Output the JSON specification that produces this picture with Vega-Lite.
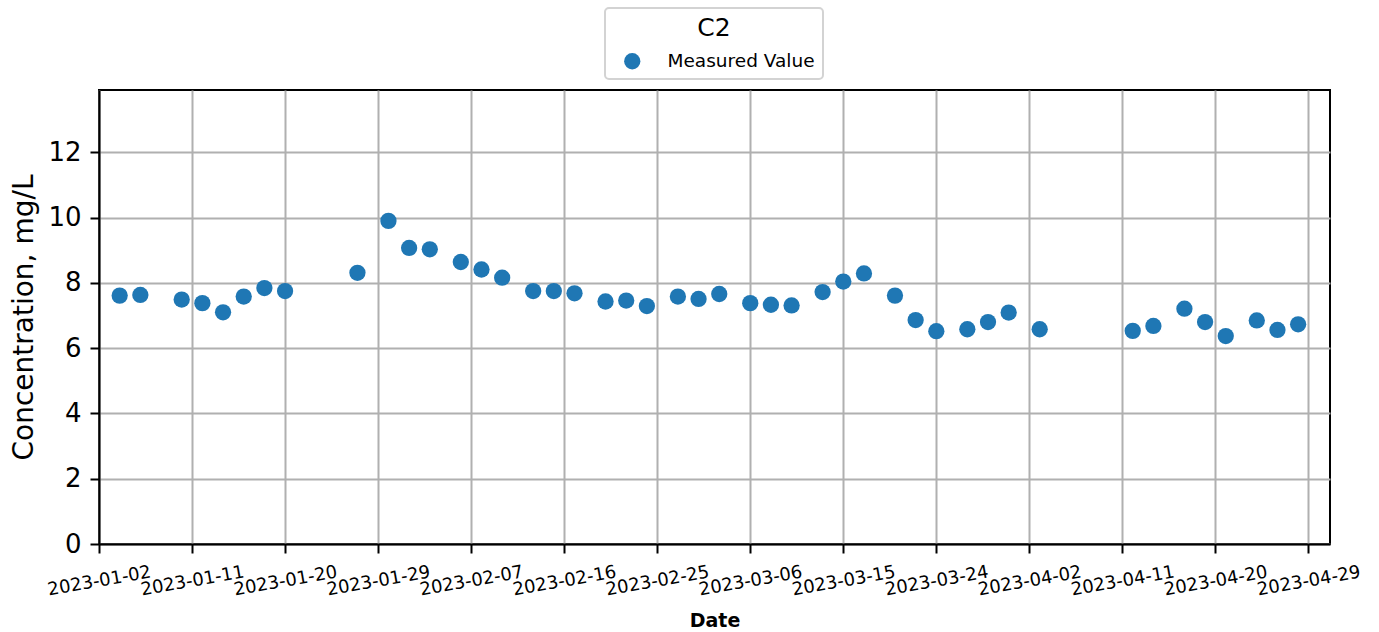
{
  "$schema": "https://vega.github.io/schema/vega-lite/v6.json",
  "autosize": {"type": "none"},
  "width": 1231,
  "height": 454,
  "padding": {"left": 99, "top": 90, "right": 49, "bottom": 88},
  "background": "white",
  "config": {
    "font": "DejaVu Sans",
    "view": {"stroke": "black", "strokeWidth": 2}
  },
  "data": {
    "values": [
      {"date": "2023-01-04", "value": 7.61},
      {"date": "2023-01-06", "value": 7.63},
      {"date": "2023-01-10", "value": 7.49},
      {"date": "2023-01-12", "value": 7.38},
      {"date": "2023-01-14", "value": 7.10},
      {"date": "2023-01-16", "value": 7.58},
      {"date": "2023-01-18", "value": 7.84},
      {"date": "2023-01-20", "value": 7.75},
      {"date": "2023-01-27", "value": 8.31},
      {"date": "2023-01-30", "value": 9.90},
      {"date": "2023-02-01", "value": 9.07},
      {"date": "2023-02-03", "value": 9.03},
      {"date": "2023-02-06", "value": 8.64},
      {"date": "2023-02-08", "value": 8.41},
      {"date": "2023-02-10", "value": 8.16},
      {"date": "2023-02-13", "value": 7.75},
      {"date": "2023-02-15", "value": 7.75},
      {"date": "2023-02-17", "value": 7.68},
      {"date": "2023-02-20", "value": 7.43},
      {"date": "2023-02-22", "value": 7.46},
      {"date": "2023-02-24", "value": 7.29},
      {"date": "2023-02-27", "value": 7.58},
      {"date": "2023-03-01", "value": 7.51},
      {"date": "2023-03-03", "value": 7.66},
      {"date": "2023-03-06", "value": 7.38},
      {"date": "2023-03-08", "value": 7.33},
      {"date": "2023-03-10", "value": 7.31},
      {"date": "2023-03-13", "value": 7.72},
      {"date": "2023-03-15", "value": 8.04},
      {"date": "2023-03-17", "value": 8.29},
      {"date": "2023-03-20", "value": 7.61},
      {"date": "2023-03-22", "value": 6.86},
      {"date": "2023-03-24", "value": 6.52},
      {"date": "2023-03-27", "value": 6.58},
      {"date": "2023-03-29", "value": 6.80},
      {"date": "2023-03-31", "value": 7.09},
      {"date": "2023-04-03", "value": 6.58},
      {"date": "2023-04-12", "value": 6.53},
      {"date": "2023-04-14", "value": 6.68},
      {"date": "2023-04-17", "value": 7.21},
      {"date": "2023-04-19", "value": 6.80},
      {"date": "2023-04-21", "value": 6.37},
      {"date": "2023-04-24", "value": 6.85},
      {"date": "2023-04-26", "value": 6.56},
      {"date": "2023-04-28", "value": 6.73}
    ]
  },
  "mark": {"type": "point", "filled": true, "size": 265, "opacity": 1, "shape": "circle"},
  "encoding": {
    "x": {
      "field": "date",
      "type": "temporal",
      "scale": {
        "type": "utc",
        "domain": [1672617600000, 1682906400000]
      },
      "axis": {
        "values": [1672617600000, 1673395200000, 1674172800000, 1674950400000, 1675728000000, 1676505600000, 1677283200000, 1678060800000, 1678838400000, 1679616000000, 1680393600000, 1681171200000, 1681948800000, 1682726400000],
        "labelExpr": "utcFormat(datum.value, '%Y-%m-%d')",
        "labelAngle": -10,
        "labelAlign": "center",
        "labelBaseline": "middle",
        "labelFontSize": 18,
        "labelPadding": 28,
        "labelColor": "black",
        "labelOverlap": false,
        "labelFlush": false,
        "labelBound": false,
        "tickSize": 9,
        "tickWidth": 2,
        "tickColor": "black",
        "domain": true,
        "domainColor": "black",
        "domainWidth": 2,
        "grid": true,
        "gridColor": "#b0b0b0",
        "gridWidth": 2,
        "title": "Date",
        "titleFontSize": 19,
        "titleFontWeight": "bold",
        "titleColor": "black",
        "titleX": 615.5,
        "titleY": 82,
        "titleBaseline": "alphabetic",
        "titleAlign": "center"
      }
    },
    "y": {
      "field": "value",
      "type": "quantitative",
      "scale": {"domain": [0, 13.91], "nice": false, "zero": true},
      "axis": {
        "values": [0, 2, 4, 6, 8, 10, 12],
        "labelFontSize": 26,
        "labelPadding": 9,
        "labelColor": "black",
        "tickSize": 9,
        "tickWidth": 2,
        "tickColor": "black",
        "domain": true,
        "domainColor": "black",
        "domainWidth": 2,
        "grid": true,
        "gridColor": "#b0b0b0",
        "gridWidth": 2,
        "title": "Concentration, mg/L",
        "titleFontSize": 28,
        "titleFontWeight": "normal",
        "titleColor": "black",
        "titleAngle": -90,
        "titleX": -67,
        "titleY": 227,
        "titleBaseline": "alphabetic",
        "titleAlign": "center"
      }
    },
    "color": {
      "datum": "Measured Value",
      "scale": {"range": ["#1f77b4"]},
      "legend": {
        "title": "C2",
        "orient": "none",
        "legendX": 506,
        "legendY": -82,
        "titleFontSize": 25,
        "titleFontWeight": "normal",
        "titleColor": "black",
        "titleAnchor": "middle",
        "titlePadding": 11,
        "labelFontSize": 18.5,
        "labelColor": "black",
        "labelOffset": 26,
        "symbolType": "circle",
        "symbolSize": 265,
        "symbolOffset": 10,
        "symbolStrokeWidth": 0,
        "symbolOpacity": 1,
        "padding": 8,
        "strokeColor": "#d3d3d3",
        "cornerRadius": 4,
        "fillColor": "white",
        "encode": {"legend": {"update": {"strokeWidth": {"value": 2}}}}
      }
    }
  }
}
